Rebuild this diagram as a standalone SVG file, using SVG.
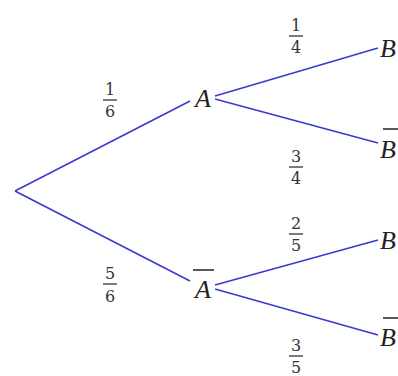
<svg xmlns="http://www.w3.org/2000/svg" width="398" height="376" viewBox="0 0 398 376">
<style>
.e{stroke:#3a3ad0;stroke-width:1.6;fill:none}
.v{font-family:"Liberation Serif",serif;font-style:italic;font-size:26px;fill:#222}
.f{font-family:"DejaVu Serif","Liberation Serif",serif;font-size:16px;fill:#333;text-anchor:middle}
.bar{stroke:#333;stroke-width:1.3}
.ob{stroke:#222;stroke-width:1.5}
</style>
<rect width="398" height="376" fill="#fff"/>
<g id="connectors">
<line class="e" x1="15" y1="191" x2="190" y2="101"/>
<line class="e" x1="15" y1="191" x2="190" y2="281"/>
<line class="e" x1="215" y1="96" x2="378" y2="48"/>
<line class="e" x1="215" y1="99" x2="378" y2="143"/>
<line class="e" x1="215" y1="285" x2="378" y2="240"/>
<line class="e" x1="215" y1="289" x2="378" y2="335"/>
</g>
<g id="p16"><text class="f" x="110" y="95">1</text><line class="bar" x1="103" y1="100" x2="117" y2="100"/><text class="f" x="110" y="117">6</text></g>
<g id="p56"><text class="f" x="110" y="279">5</text><line class="bar" x1="103" y1="284" x2="117" y2="284"/><text class="f" x="110" y="302">6</text></g>
<g id="p14"><text class="f" x="296" y="31">1</text><line class="bar" x1="289" y1="36" x2="303" y2="36"/><text class="f" x="296" y="53">4</text></g>
<g id="p34"><text class="f" x="296" y="162">3</text><line class="bar" x1="289" y1="167" x2="303" y2="167"/><text class="f" x="296" y="184">4</text></g>
<g id="p25"><text class="f" x="296" y="229">2</text><line class="bar" x1="289" y1="234" x2="303" y2="234"/><text class="f" x="296" y="251">5</text></g>
<g id="p35"><text class="f" x="296" y="351">3</text><line class="bar" x1="289" y1="356" x2="303" y2="356"/><text class="f" x="296" y="373">5</text></g>
<g id="A"><text class="v" x="195" y="107">A</text></g>
<g id="Abar"><text class="v" x="195" y="298">A</text><line class="ob" x1="193" y1="270" x2="214" y2="270"/></g>
<g id="B1"><text class="v" x="380" y="57">B</text></g>
<g id="B1bar"><text class="v" x="380" y="158">B</text><line class="ob" x1="383" y1="129" x2="398" y2="129"/></g>
<g id="B2"><text class="v" x="380" y="249">B</text></g>
<g id="B2bar"><text class="v" x="380" y="346">B</text><line class="ob" x1="383" y1="318" x2="398" y2="318"/></g>
</svg>
